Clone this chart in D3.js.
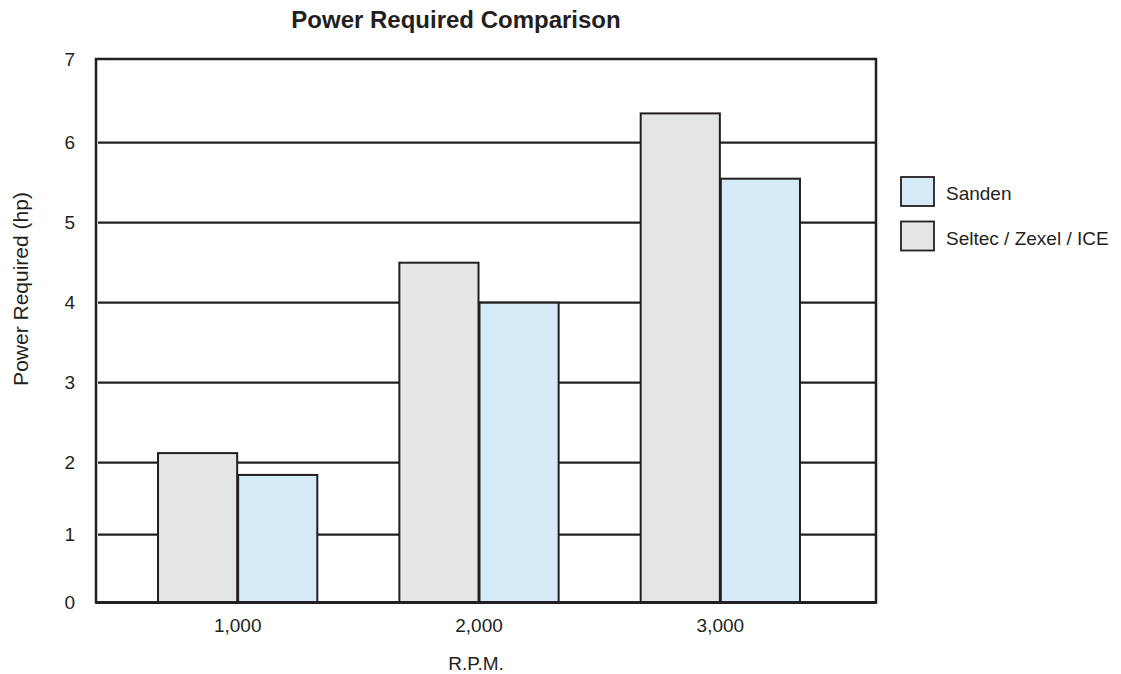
<!DOCTYPE html>
<html>
<head>
<meta charset="utf-8">
<script src="https://cdn.jsdelivr.net/npm/d3@7"></script>
<style>
  html, body { margin: 0; padding: 0; background: #ffffff; }
  svg { display: block; font-family: "Liberation Sans", Arial, Helvetica, sans-serif; }
</style>
</head>
<body>
<svg id="chart" width="1121" height="674"></svg>
<script>
// ---- Data ----
const categories = ["1,000", "2,000", "3,000"];
const seriesNames = ["Seltec / Zexel / ICE", "Sanden"];
const seltecValues = [2.12, 4.5, 6.35];
const sandenValues = [1.83, 4.0, 5.55];
const yTickValues = [0, 1, 2, 3, 4, 5, 6, 7];
const legendOrder = ["Sanden", "Seltec / Zexel / ICE"];

const title = "Power Required Comparison";
const xTitle = "R.P.M.";
const yTitle = "Power Required (hp)";

// ---- Layout / style ----
const INK = "#231f20";
const colors = { "Seltec / Zexel / ICE": "#e4e5e6", "Sanden": "#d5ebf8" };
const plot = { left: 96, right: 876, top: 59, bottom: 602.5 };
const FONT = 19;

const svg = d3.select("#chart");

const rows = categories.map((c, i) => ({
  cat: c,
  values: [
    { key: seriesNames[0], value: seltecValues[i] },
    { key: seriesNames[1], value: sandenValues[i] }
  ]
}));

// The original chart's value axis is not evenly spaced; a piecewise linear scale reproduces it.
const y = d3.scaleLinear()
  .domain(yTickValues)
  .range([602.5, 534.7, 462.7, 382.7, 302.7, 222.7, 142.7, 59]);

const x0 = d3.scaleBand()
  .domain(categories)
  .range([117, 841])
  .paddingInner(0.34)
  .paddingOuter(0.17);

const x1 = d3.scaleBand()
  .domain(seriesNames)
  .range([0, x0.bandwidth()])
  .paddingInner(0.012);

// Gridlines
svg.append("g")
  .selectAll("line")
  .data(yTickValues.filter(v => v > 0 && v < 7))
  .join("line")
  .attr("x1", plot.left + 2)
  .attr("x2", plot.right - 1)
  .attr("y1", d => y(d))
  .attr("y2", d => y(d))
  .attr("stroke", INK)
  .attr("stroke-width", 2.2);

// Bars
const groups = svg.append("g")
  .selectAll("g")
  .data(rows)
  .join("g")
  .attr("transform", d => `translate(${x0(d.cat)},0)`);

groups.selectAll("rect")
  .data(d => d.values)
  .join("rect")
  .attr("x", d => x1(d.key))
  .attr("width", x1.bandwidth())
  .attr("y", d => y(d.value))
  .attr("height", d => y(0) - y(d.value))
  .attr("fill", d => colors[d.key])
  .attr("stroke", INK)
  .attr("stroke-width", 2);

// Frame
svg.append("rect")
  .attr("x", plot.left)
  .attr("y", plot.top)
  .attr("width", plot.right - plot.left)
  .attr("height", plot.bottom - plot.top)
  .attr("fill", "none")
  .attr("stroke", INK)
  .attr("stroke-width", 2.5);
svg.append("line")
  .attr("x1", plot.left).attr("x2", plot.right)
  .attr("y1", plot.bottom).attr("y2", plot.bottom)
  .attr("stroke", INK).attr("stroke-width", 3);

// Y axis labels
const yAxis = d3.axisLeft(y).tickValues(yTickValues).tickSize(0).tickPadding(21).tickFormat(d3.format("d"));
const gy = svg.append("g").attr("transform", `translate(${plot.left},0)`).call(yAxis);
gy.select(".domain").remove();
gy.selectAll("text")
  .attr("font-size", FONT)
  .attr("fill", INK)
  .attr("font-family", "Liberation Sans, Arial, sans-serif");

// X axis labels
const xAxis = d3.axisBottom(x0).tickSize(0).tickPadding(16);
const gx = svg.append("g").attr("transform", `translate(0,${plot.bottom})`).call(xAxis);
gx.select(".domain").remove();
gx.selectAll("text")
  .attr("font-size", FONT)
  .attr("fill", INK)
  .attr("font-family", "Liberation Sans, Arial, sans-serif");

// Titles
svg.append("text")
  .attr("x", 456).attr("y", 28)
  .attr("text-anchor", "middle")
  .attr("font-size", 24)
  .attr("font-weight", "bold")
  .attr("fill", INK)
  .text(title);

svg.append("text")
  .attr("x", 476).attr("y", 670)
  .attr("text-anchor", "middle")
  .attr("font-size", FONT)
  .attr("fill", INK)
  .text(xTitle);

svg.append("text")
  .attr("transform", "translate(27.5,289) rotate(-90)")
  .attr("text-anchor", "middle")
  .attr("font-size", 21)
  .attr("fill", INK)
  .text(yTitle);

// Legend
const legend = svg.append("g").attr("transform", "translate(901,177)");
const li = legend.selectAll("g")
  .data(legendOrder)
  .join("g")
  .attr("transform", (d, i) => `translate(0,${i * 44.5})`);
li.append("rect")
  .attr("width", 33).attr("height", 29)
  .attr("fill", d => colors[d])
  .attr("stroke", INK)
  .attr("stroke-width", 1.8);
li.append("text")
  .attr("x", 45).attr("y", 16.5)
  .attr("dy", "0.35em")
  .attr("font-size", FONT)
  .attr("fill", INK)
  .text(d => d);
</script>
</body>
</html>
